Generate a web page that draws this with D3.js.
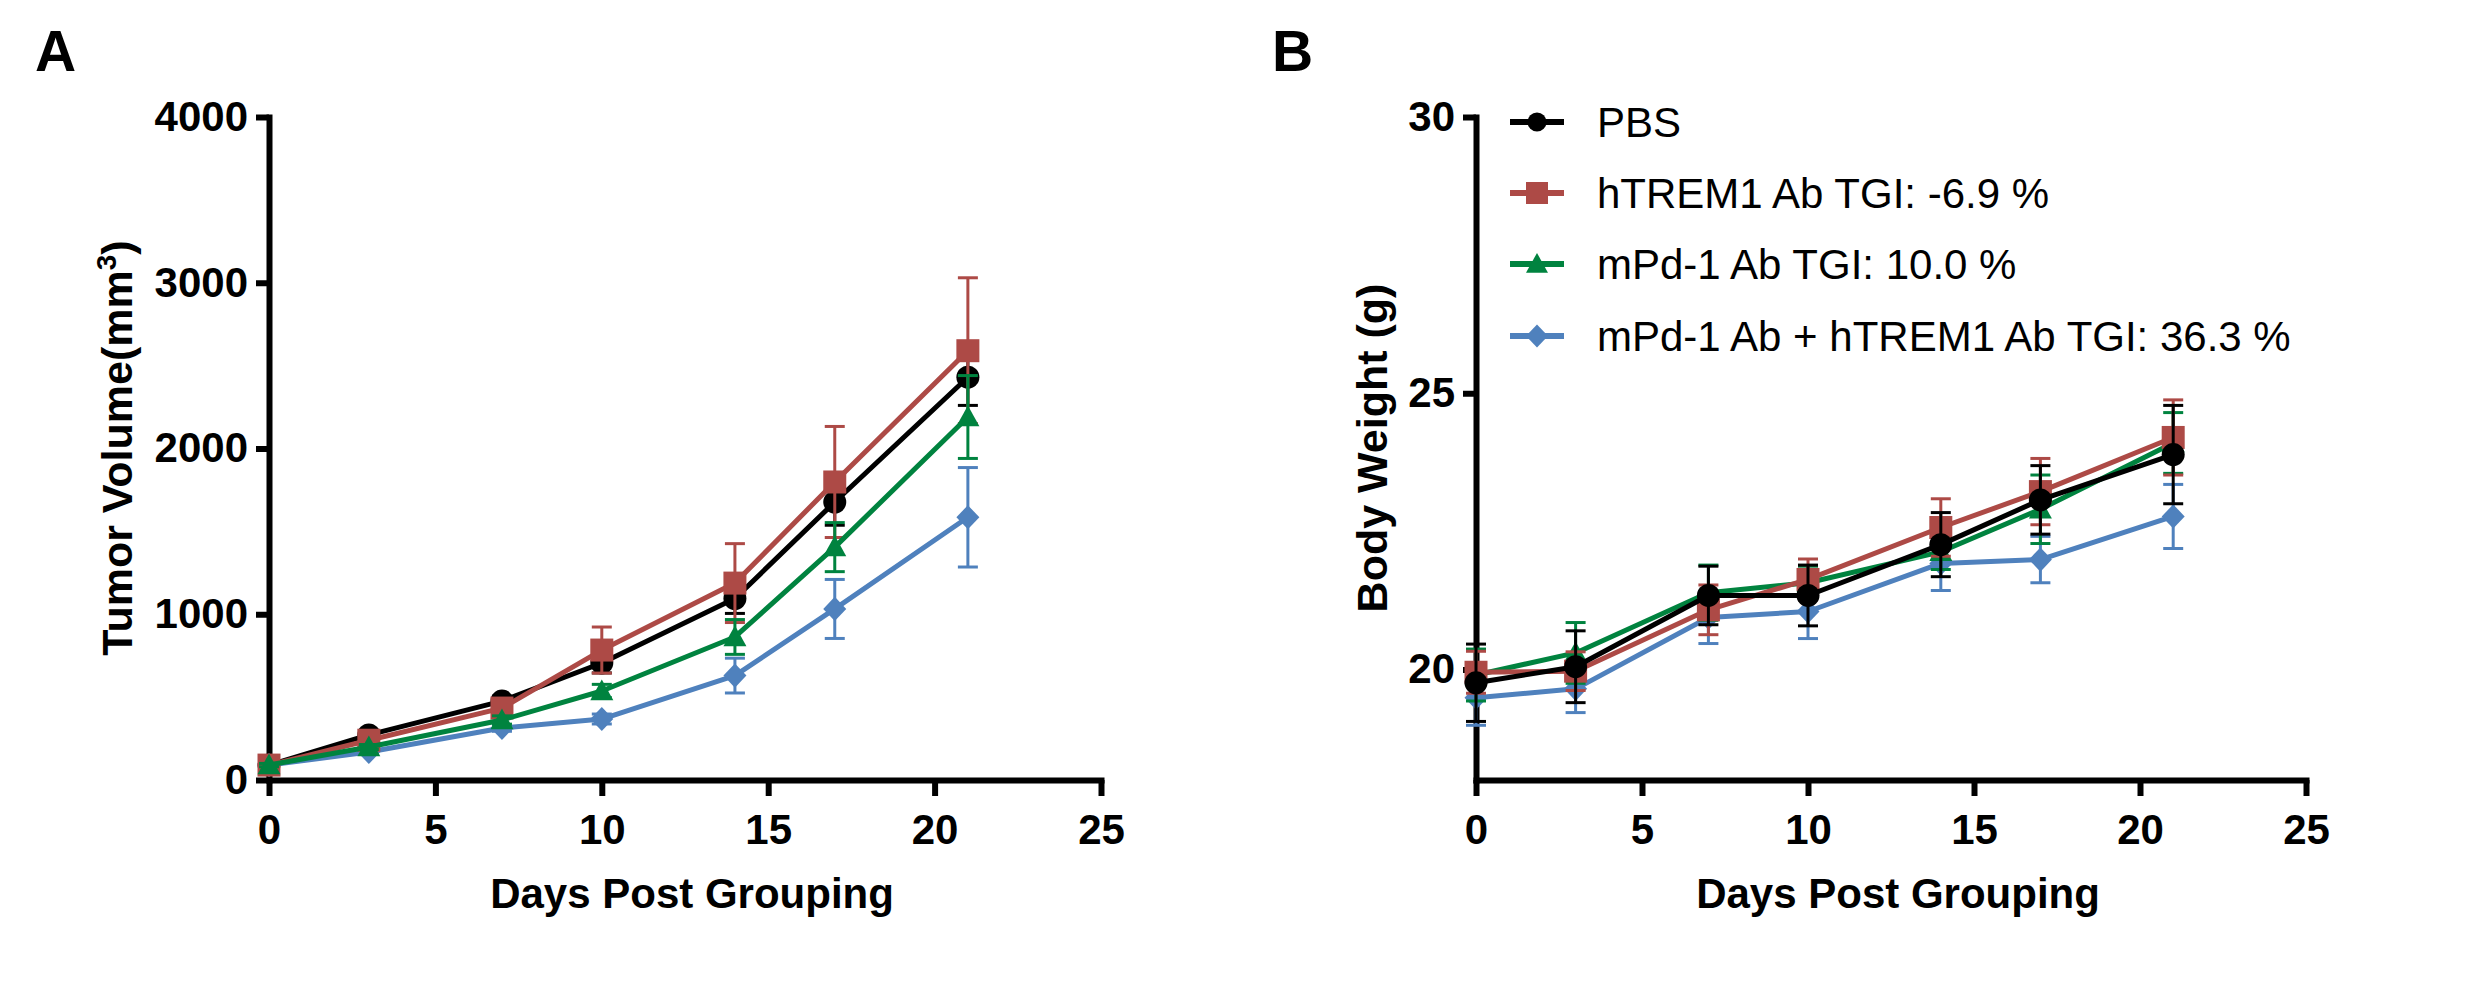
<!DOCTYPE html>
<html>
<head>
<meta charset="utf-8">
<script src="https://cdn.jsdelivr.net/npm/d3@7"></script>
<style>
  body { margin: 0; background: #fff; }
  text { font-family: "Liberation Sans", Arial, sans-serif; }
</style>
</head>
<body>
<div id="chart"></div>
<script>
// days on the x axis
const days = [0, 3, 7, 10, 14, 17, 21];

// legend names
const groupNames = ["PBS", "hTREM1 Ab TGI: -6.9 %", "mPd-1 Ab TGI: 10.0 %", "mPd-1 Ab + hTREM1 Ab TGI: 36.3 %"];

// tumor volume (mm3), mean and sem
const tumorPBS = [90, 272, 476, 706, 1095, 1677, 2430];
const tumorPBSErr = [10, 20, 30, 60, 90, 140, 170];
const tumorTrem = [90, 240, 434, 784, 1188, 1798, 2590];
const tumorTremErr = [10, 20, 30, 139, 238, 335, 440];
const tumorPd1 = [90, 199, 362, 537, 863, 1405, 2190];
const tumorPd1Err = [10, 15, 25, 40, 105, 148, 250];
const tumorCombo = [90, 169, 314, 368, 630, 1032, 1585];
const tumorComboErr = [10, 15, 20, 30, 105, 178, 300];

// body weight (g), mean and sem
const weightPBS = [19.76, 20.05, 21.34, 21.34, 22.26, 23.07, 23.89];
const weightPBSErr = [0.7, 0.65, 0.53, 0.55, 0.58, 0.62, 0.89];
const weightTrem = [19.95, 19.97, 21.08, 21.63, 22.57, 23.22, 24.2];
const weightTremErr = [0.38, 0.35, 0.45, 0.37, 0.52, 0.6, 0.68];
const weightPd1 = [19.9, 20.3, 21.39, 21.57, 22.13, 22.9, 24.1];
const weightPd1Err = [0.47, 0.55, 0.5, 0.3, 0.32, 0.62, 0.55];
const weightCombo = [19.49, 19.65, 20.94, 21.05, 21.92, 21.99, 22.77];
const weightComboErr = [0.5, 0.43, 0.47, 0.49, 0.49, 0.42, 0.58];

// axis ticks
const xTicks = [0, 5, 10, 15, 20, 25];
const tumorTicks = [0, 1000, 2000, 3000, 4000];
const weightTicks = [20, 25, 30];

const colors = ["#000000", "#ad4a46", "#00833f", "#4f81bd"];
const shapes = ["circle", "square", "triangle", "diamond"];

const width = 2474, height = 998;

let svg = d3.select("#chart")
    .append("svg")
    .attr("width", width)
    .attr("height", height);

// marker path, size in px
function markerPath(shape, s) {
    if (shape == "circle") {
        return d3.symbol().type(d3.symbolCircle).size(Math.PI * s * s / 4)();
    }
    if (shape == "square") {
        let h = s / 2;
        return `M${-h},${-h}H${h}V${h}H${-h}Z`;
    }
    if (shape == "triangle") {
        let h = s / 2;
        return `M0,${-h}L${h},${h * 0.8}L${-h},${h * 0.8}Z`;
    }
    // diamond
    let h = s / 2;
    return `M0,${-h * 1.05}L${h},0L0,${h * 1.05}L${-h},0Z`;
}

function drawPanel(p) {
    let x = d3.scaleLinear().domain([0, 25]).range(p.xRange);
    let y = d3.scaleLinear().domain(p.yDomain).range([780, 117]);

    let g = svg.append("g");

    // x axis
    let xAxis = g.append("g")
        .attr("transform", "translate(0," + y.range()[0] + ")")
        .call(d3.axisBottom(x).tickValues(xTicks).tickFormat(d3.format("d"))
            .tickSize(16).tickPadding(18).tickSizeOuter(0));

    // y axis
    let yAxis = g.append("g")
        .attr("transform", "translate(" + x.range()[0] + ",0)")
        .call(d3.axisLeft(y).tickValues(p.yTicks).tickFormat(d3.format("d"))
            .tickSize(13).tickPadding(8).tickSizeOuter(0));

    [xAxis, yAxis].forEach(function(a) {
        a.select(".domain").attr("stroke", "#000").attr("stroke-width", 6).attr("stroke-linecap", "square");
        a.selectAll(".tick line").attr("stroke", "#000").attr("stroke-width", 6);
        a.selectAll(".tick text")
            .attr("fill", "#000")
            .style("font-size", "42px")
            .style("font-weight", "bold")
            .style("font-family", "'Liberation Sans', Arial, sans-serif");
    });

    // axis titles
    g.append("text")
        .attr("x", d3.mean(x.range()) + 7)
        .attr("y", 908)
        .attr("text-anchor", "middle")
        .style("font-size", "42px")
        .style("font-weight", "bold")
        .text("Days Post Grouping");

    let yTitle = g.append("text")
        .attr("transform", "translate(" + p.yTitleX + ",448) rotate(-90)")
        .attr("text-anchor", "middle")
        .style("font-size", "43px")
        .style("font-weight", "bold");
    p.yTitle(yTitle);

    // panel letter
    g.append("text")
        .attr("x", p.letterX)
        .attr("y", 71)
        .style("font-size", "57px")
        .style("font-weight", "bold")
        .text(p.letter);

    const line = d3.line()
        .x(function(d) { return x(d.day); })
        .y(function(d) { return y(d.value); });

    // draw series in the panel's order
    p.order.forEach(function(i) {
        let data = days.map(function(d, j) {
            return {day: d, value: p.values[i][j], err: p.errors[i][j]};
        });
        let sg = g.append("g");

        // error bars
        let eb = sg.selectAll(".err")
            .data(data)
            .enter().append("g")
            .attr("stroke", colors[i])
            .attr("stroke-width", 3);
        eb.append("line")
            .attr("x1", function(d) { return x(d.day); })
            .attr("x2", function(d) { return x(d.day); })
            .attr("y1", function(d) { return y(d.value - d.err); })
            .attr("y2", function(d) { return y(d.value + d.err); });
        eb.append("line")
            .attr("x1", function(d) { return x(d.day) - 10; })
            .attr("x2", function(d) { return x(d.day) + 10; })
            .attr("y1", function(d) { return y(d.value + d.err); })
            .attr("y2", function(d) { return y(d.value + d.err); });
        eb.append("line")
            .attr("x1", function(d) { return x(d.day) - 10; })
            .attr("x2", function(d) { return x(d.day) + 10; })
            .attr("y1", function(d) { return y(d.value - d.err); })
            .attr("y2", function(d) { return y(d.value - d.err); });

        sg.append("path")
            .datum(data)
            .attr("fill", "none")
            .attr("stroke", colors[i])
            .attr("stroke-width", 5)
            .attr("stroke-linejoin", "round")
            .attr("d", line);

        sg.selectAll(".pt")
            .data(data)
            .enter().append("path")
            .attr("transform", function(d) { return "translate(" + x(d.day) + "," + y(d.value) + ")"; })
            .attr("fill", colors[i])
            .attr("d", markerPath(shapes[i], 23));
    });
}

// panel A
drawPanel({
    letter: "A",
    letterX: 35,
    xRange: [269, 1101],
    yDomain: [0, 4000],
    yTicks: tumorTicks,
    yTitleX: 132,
    yTitle: function(t) {
        t.append("tspan").text("Tumor Volume(mm");
        t.append("tspan").attr("dy", -16).style("font-size", "28px").text("3");
        t.append("tspan").attr("dy", 16).text(")");
    },
    values: [tumorPBS, tumorTrem, tumorPd1, tumorCombo],
    errors: [tumorPBSErr, tumorTremErr, tumorPd1Err, tumorComboErr],
    order: [0, 3, 1, 2]
});

// panel B
drawPanel({
    letter: "B",
    letterX: 1272,
    xRange: [1476, 2306],
    yDomain: [18, 30],
    yTicks: weightTicks,
    yTitleX: 1387,
    yTitle: function(t) { t.text("Body Weight (g)"); },
    values: [weightPBS, weightTrem, weightPd1, weightCombo],
    errors: [weightPBSErr, weightTremErr, weightPd1Err, weightComboErr],
    order: [3, 2, 1, 0]
});

// legend for panel B
const legendRows = [122, 193, 264, 336];
let legend = svg.append("g");
groupNames.forEach(function(name, i) {
    let row = legend.append("g").attr("transform", "translate(0," + legendRows[i] + ")");
    row.append("line")
        .attr("x1", 1510).attr("x2", 1564)
        .attr("stroke", colors[i])
        .attr("stroke-width", 6);
    row.append("path")
        .attr("transform", "translate(1537,0)")
        .attr("fill", colors[i])
        .attr("d", markerPath(shapes[i], i == 0 ? 19 : 22));
    row.append("text")
        .attr("x", 1597)
        .attr("dy", "0.36em")
        .style("font-size", "42px")
        .text(name);
});
</script>
</body>
</html>
